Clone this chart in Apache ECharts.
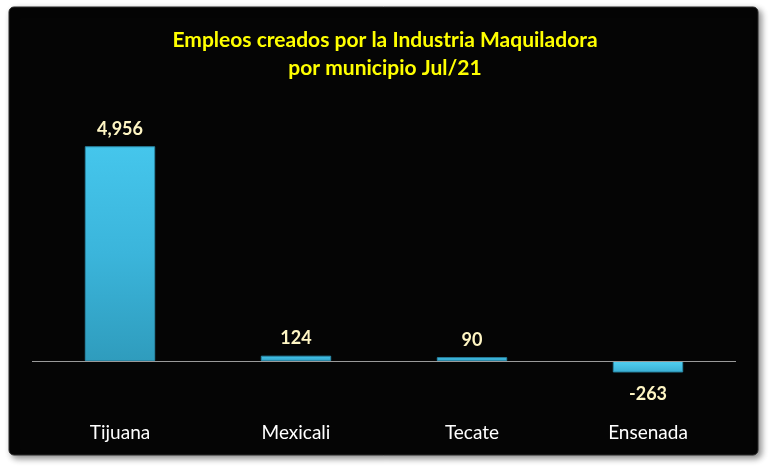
<!DOCTYPE html>
<html><head><meta charset="utf-8">
<script src="https://cdn.jsdelivr.net/npm/echarts@6/dist/echarts.min.js"></script>
<style>html,body{margin:0;padding:0;background:#fff}#c{width:770px;height:470px}</style>
</head><body><div id="c"></div>
<script>
const categories = ['Tijuana', 'Mexicali', 'Tecate', 'Ensenada'];
const values = [4956, 124, 90, -263];
const titleLines = ['Empleos creados por la Industria Maquiladora', 'por municipio Jul/21'];

const chart = echarts.init(document.getElementById('c'), null, {renderer: 'canvas'});
const fmt = v => v.toLocaleString('en-US');
const barColor = new echarts.graphic.LinearGradient(0, 0, 0, 1, [
  {offset: 0, color: '#45c6ec'},
  {offset: 0.5, color: '#3bb5db'},
  {offset: 1, color: '#2f9cbd'}
]);
const negColor = new echarts.graphic.LinearGradient(0, 0, 0, 1, [
  {offset: 0, color: '#52d2f4'},
  {offset: 1, color: '#3aaed2'}
]);
const data = values.map(v => ({
  value: v,
  itemStyle: {color: v < 0 ? negColor : barColor},
  label: {position: v < 0 ? 'bottom' : 'top', distance: v < 0 ? 13 : 8}
}));

chart.setOption({
  animation: false,
  backgroundColor: '#ffffff',
  graphic: [{
    type: 'rect', z: -10, silent: true,
    shape: {x: 9, y: 7, width: 749, height: 448, r: 5},
    style: {fill: '#050505', stroke: '#2a2a2a', lineWidth: 1,
      shadowBlur: 6, shadowColor: 'rgba(0,0,0,0.45)', shadowOffsetX: 3, shadowOffsetY: 3}
  }],
  title: {
    text: titleLines.join('\n'),
    left: 'center', top: 21,
    textStyle: {color: '#ffff00', fontFamily: 'Lato', fontWeight: 'bold', fontSize: 21, lineHeight: 28}
  },
  grid: {left: 32, right: 34, top: 101, bottom: 65.6, containLabel: false},
  xAxis: {
    type: 'category', data: categories,
    axisLine: {show: false, onZero: false},
    axisTick: {show: false},
    axisLabel: {color: '#ffffff', fontFamily: 'Lato', fontSize: 19, margin: 19}
  },
  yAxis: {
    type: 'value', min: -1000, max: 6000, interval: 1000,
    show: false, splitLine: {show: false}
  },
  series: [{
    type: 'bar', data: data, barWidth: '40%',
    itemStyle: {borderColor: '#2a88a6', borderWidth: 1},
    label: {show: true, color: '#fff6c4', fontFamily: 'Lato', fontWeight: 'bold', fontSize: 18,
      formatter: p => fmt(p.value)},
    markLine: {
      silent: true, symbol: 'none', label: {show: false},
      lineStyle: {color: '#9a9a9a', width: 1, type: 'solid'},
      data: [{yAxis: 0}]
    }
  }]
});
</script></body></html>
